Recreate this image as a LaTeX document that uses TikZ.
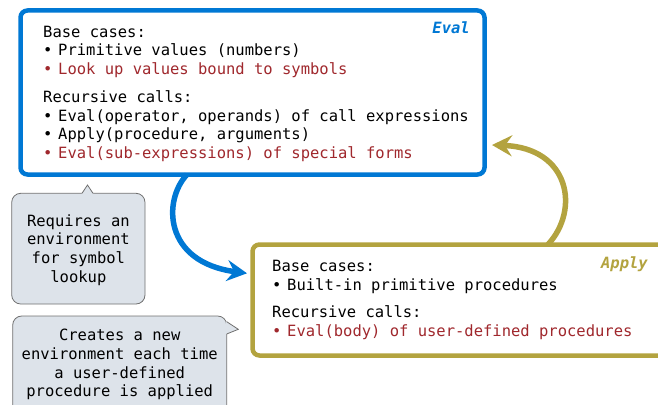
\documentclass[tikz,border=0pt]{standalone}
\usepackage{fontspec}
\usetikzlibrary{arrows.meta,calc}
\newfontfamily\monofont{DejaVu Sans Mono}
\definecolor{evalblue}{HTML}{0078D4}
\definecolor{applyolive}{HTML}{B3A33F}
\definecolor{specialred}{HTML}{A0282D}
\definecolor{notefill}{HTML}{DDE3EA}
\definecolor{notedraw}{HTML}{707070}
\tikzset{
  txt/.style={font=\monofont\fontsize{15.5}{18.7}\selectfont, inner sep=0pt, align=left},
  casebox/.style={rectangle, rounded corners=7pt, line width=4.5pt, outer sep=0pt, fill=white},
  note/.style={rectangle, rounded corners=9pt, fill=notefill, draw=notedraw, line width=0.8pt, outer sep=0pt},
  bigarrow/.style={line width=5.5pt, -{Stealth[length=20pt,width=21pt,inset=7pt]}}
}
\newcommand{\itm}{\makebox[15pt][l]{\textbullet}}

\begin{document}
\begin{tikzpicture}[x=1pt,y=-1pt]

\clip (0,0) rectangle (658,404);

\node [casebox, draw=evalblue, minimum width=464pt, minimum height=164pt, anchor=north west] (eval) at (20.5,10.5) {};
\node [casebox, draw=applyolive, minimum width=430pt, minimum height=111pt, anchor=north west] (apply) at (252.5,244.5) {};

% base anchor sits on the last line
\node [txt, anchor=base west] (evaltxt) at (43,158.5) {Base cases:\\
\itm Primitive values (numbers)\\
{\color{specialred}\itm Look up values bound to symbols}\\[9.3pt]
Recursive calls:\\
\itm Eval(operator, operands) of call expressions\\
\itm Apply(procedure, arguments)\\
{\color{specialred}\itm Eval(sub-expressions) of special forms}};
\node [txt, anchor=base east, text=evalblue] (evallbl) at (470,34) {\bfseries\itshape Eval};

\node [txt, anchor=base west] (applytxt) at (272,336.3) {Base cases:\\
\itm Built-in primitive procedures\\[8.5pt]
Recursive calls:\\
{\color{specialred}\itm Eval(body) of user-defined procedures}};
\node [txt, anchor=base east, text=applyolive] (applylbl) at (648,268) {\bfseries\itshape Apply};

%%%%%%%%%%%%%%%%%%%%%%%%%%%%%%%%%%%%%%%%%%%%%%%%%%%%%%%%%%%%%%%%%%%%%%%%%%%%%%%%%%%
\node [note, minimum width=133.3pt, minimum height=110.7pt, anchor=north west] (req) at (11.7,193.3) {};
\fill [notefill] ($(req.north west)+(70,0.6)$) -- ($(req.north west)+(75.8,-8.3)$) -- ($(req.north west)+(81.6,0.6)$) -- cycle;
\draw [notedraw, line width=0.8pt] ($(req.north west)+(70.3,0)$) -- ($(req.north west)+(75.8,-8.3)$) -- ($(req.north west)+(81.3,0)$);
\node [txt, align=center, anchor=base] (reqtxt) at (78.4,282.1) {Requires an\\environment\\for symbol\\lookup};

\node [note, minimum width=214pt, minimum height=110pt, anchor=north west] (creates) at (12.7,316) {};
\fill [notefill] ($(creates.north east)+(-0.6,5.7)$) -- ($(creates.north east)+(11.6,13.3)$) -- ($(creates.north east)+(-0.6,18)$) -- cycle;
\draw [notedraw, line width=0.8pt] ($(creates.north east)+(0,5.7)$) -- ($(creates.north east)+(11.6,13.3)$) -- ($(creates.north east)+(0,18)$);
\node [txt, align=center, anchor=base] (createstxt) at (119.7,396.8) {Creates a new\\environment each time\\a user-defined\\procedure is applied};

%%%%%%%%%%%%%%%%%%%%%%%%%%%%%%%%%%%%%%%%%%%%%%%%%%%%%%%%%%%%%%%%%%%%%%%%%%%%%%%%%%
\coordinate (evalout) at ($(eval.south west)+(166.5,0)$);
\coordinate (applyin) at ($(apply.north west)+(-5.5,28.8)$);
\draw [bigarrow, evalblue] (evalout) .. controls (163,200) and (163,262) .. (applyin);

\coordinate (applyout) at ($(apply.north west)+(295.5,0)$);
\coordinate (evalin) at ($(eval.north east)+(7.5,134.5)$);
\draw [bigarrow, applyolive] (applyout) .. controls (580,210) and (570,148) .. (evalin);

\end{tikzpicture}
\end{document}
